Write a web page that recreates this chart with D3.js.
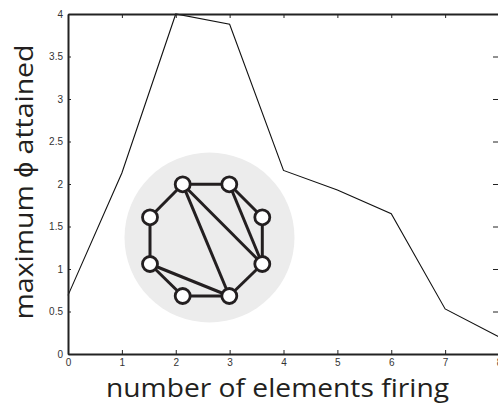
<!DOCTYPE html>
<html>
<head>
<meta charset="utf-8">
<script src="https://cdn.jsdelivr.net/npm/d3@7"></script>
<style>
body { margin: 0; background: #fff; }
svg { display: block; }
</style>
</head>
<body>
<svg width="498" height="405"></svg>
<script>
// values
const elementsFiring = [0, 1, 2, 3, 4, 5, 6, 7, 8];
const maxPhi = [0.69, 2.13, 4.0, 3.88, 2.16, 1.93, 1.65, 0.53, 0.2];
const xTicks = [0, 1, 2, 3, 4, 5, 6, 7, 8];
const yTicks = [0, 0.5, 1, 1.5, 2, 2.5, 3, 3.5, 4];

// inset network: 8 nodes on a ring + chords
const netNodes = [
	{id: 0, x: 182.7, y: 184.3}, {id: 1, x: 229.3, y: 184.3},
	{id: 2, x: 262.3, y: 217.3}, {id: 3, x: 262.3, y: 264},
	{id: 4, x: 229.3, y: 296},   {id: 5, x: 182.7, y: 296},
	{id: 6, x: 150, y: 264},     {id: 7, x: 150, y: 217.3}
];
const netLinks = [[0,1],[1,2],[2,3],[3,4],[4,5],[5,6],[6,7],[7,0],[0,3],[0,4],[1,3],[6,4]];

const svg = d3.select("svg");
const plotLeft = 68, plotRight = 499, plotTop = 14, plotBottom = 354;

const x = d3.scaleLinear().domain([0, 8]).range([plotLeft, plotRight]);
const y = d3.scaleLinear().domain([0, 4]).range([plotBottom, plotTop]);

// inset background
svg.append("circle")
		.attr("cx", 209.5).attr("cy", 237.5).attr("r", 85)
		.attr("fill", "#ececec");

svg.append("g")
		.selectAll("line")
		.data(netLinks)
		.join("line")
		.attr("x1", d => netNodes[d[0]].x).attr("y1", d => netNodes[d[0]].y)
		.attr("x2", d => netNodes[d[1]].x).attr("y2", d => netNodes[d[1]].y)
		.attr("stroke", "#231f20").attr("stroke-width", 3);

svg.append("g")
		.selectAll("circle")
		.data(netNodes)
		.join("circle")
		.attr("cx", d => d.x).attr("cy", d => d.y).attr("r", 7.5)
		.attr("fill", "#fff").attr("stroke", "#231f20").attr("stroke-width", 2.8);

// data line
svg.append("path")
		.datum(elementsFiring.map((v, i) => [v, maxPhi[i]]))
		.attr("fill", "none")
		.attr("stroke", "#111")
		.attr("stroke-width", 1.1)
		.attr("d", d3.line().x(d => x(d[0])).y(d => y(d[1])));

// axes (ticks pointing inward)
const tickStyle = g => {
	g.select(".domain").attr("stroke", "#222").attr("stroke-width", 2);
	g.selectAll(".tick line").attr("stroke", "#222").attr("stroke-width", 1);
	g.selectAll(".tick text").attr("fill", "#333")
		.style("font-family", "Liberation Sans, Arial, sans-serif").style("font-size", "10px");
};
const fmt = d => String(d);

svg.append("g").attr("transform", `translate(0,${plotBottom})`)
		.call(d3.axisBottom(x).tickValues(xTicks).tickSizeInner(-4).tickSizeOuter(0).tickPadding(5).tickFormat(fmt))
		.call(tickStyle);
svg.append("g").attr("transform", `translate(0,${plotTop})`)
		.call(d3.axisTop(x).tickValues(xTicks).tickSizeInner(-4).tickSizeOuter(0).tickFormat(""))
		.call(tickStyle);
svg.append("g").attr("transform", `translate(${plotLeft},0)`)
		.call(d3.axisLeft(y).tickValues(yTicks).tickSizeInner(-3).tickSizeOuter(0).tickPadding(5).tickFormat(fmt))
		.call(tickStyle);
svg.append("g").attr("transform", `translate(${plotRight},0)`)
		.call(d3.axisRight(y).tickValues(yTicks).tickSizeInner(-6).tickSizeOuter(0).tickFormat(""))
		.call(tickStyle)
		.call(g => g.select(".domain").remove());

// axis titles
svg.append("text")
		.attr("x", 277.5).attr("y", 397)
		.attr("text-anchor", "middle")
		.attr("fill", "#231f20")
		.style("font-family", "Open Sans, sans-serif").style("font-size", "26px")
		.attr("textLength", 343).attr("lengthAdjust", "spacingAndGlyphs")
		.text("number of elements firing");

svg.append("text")
		.attr("transform", "translate(33,182) rotate(-90)")
		.attr("text-anchor", "middle")
		.attr("fill", "#231f20")
		.style("font-family", "Open Sans, sans-serif").style("font-size", "26px")
		.attr("textLength", 275).attr("lengthAdjust", "spacingAndGlyphs")
		.text("maximum ϕ attained");
</script>
</body>
</html>
